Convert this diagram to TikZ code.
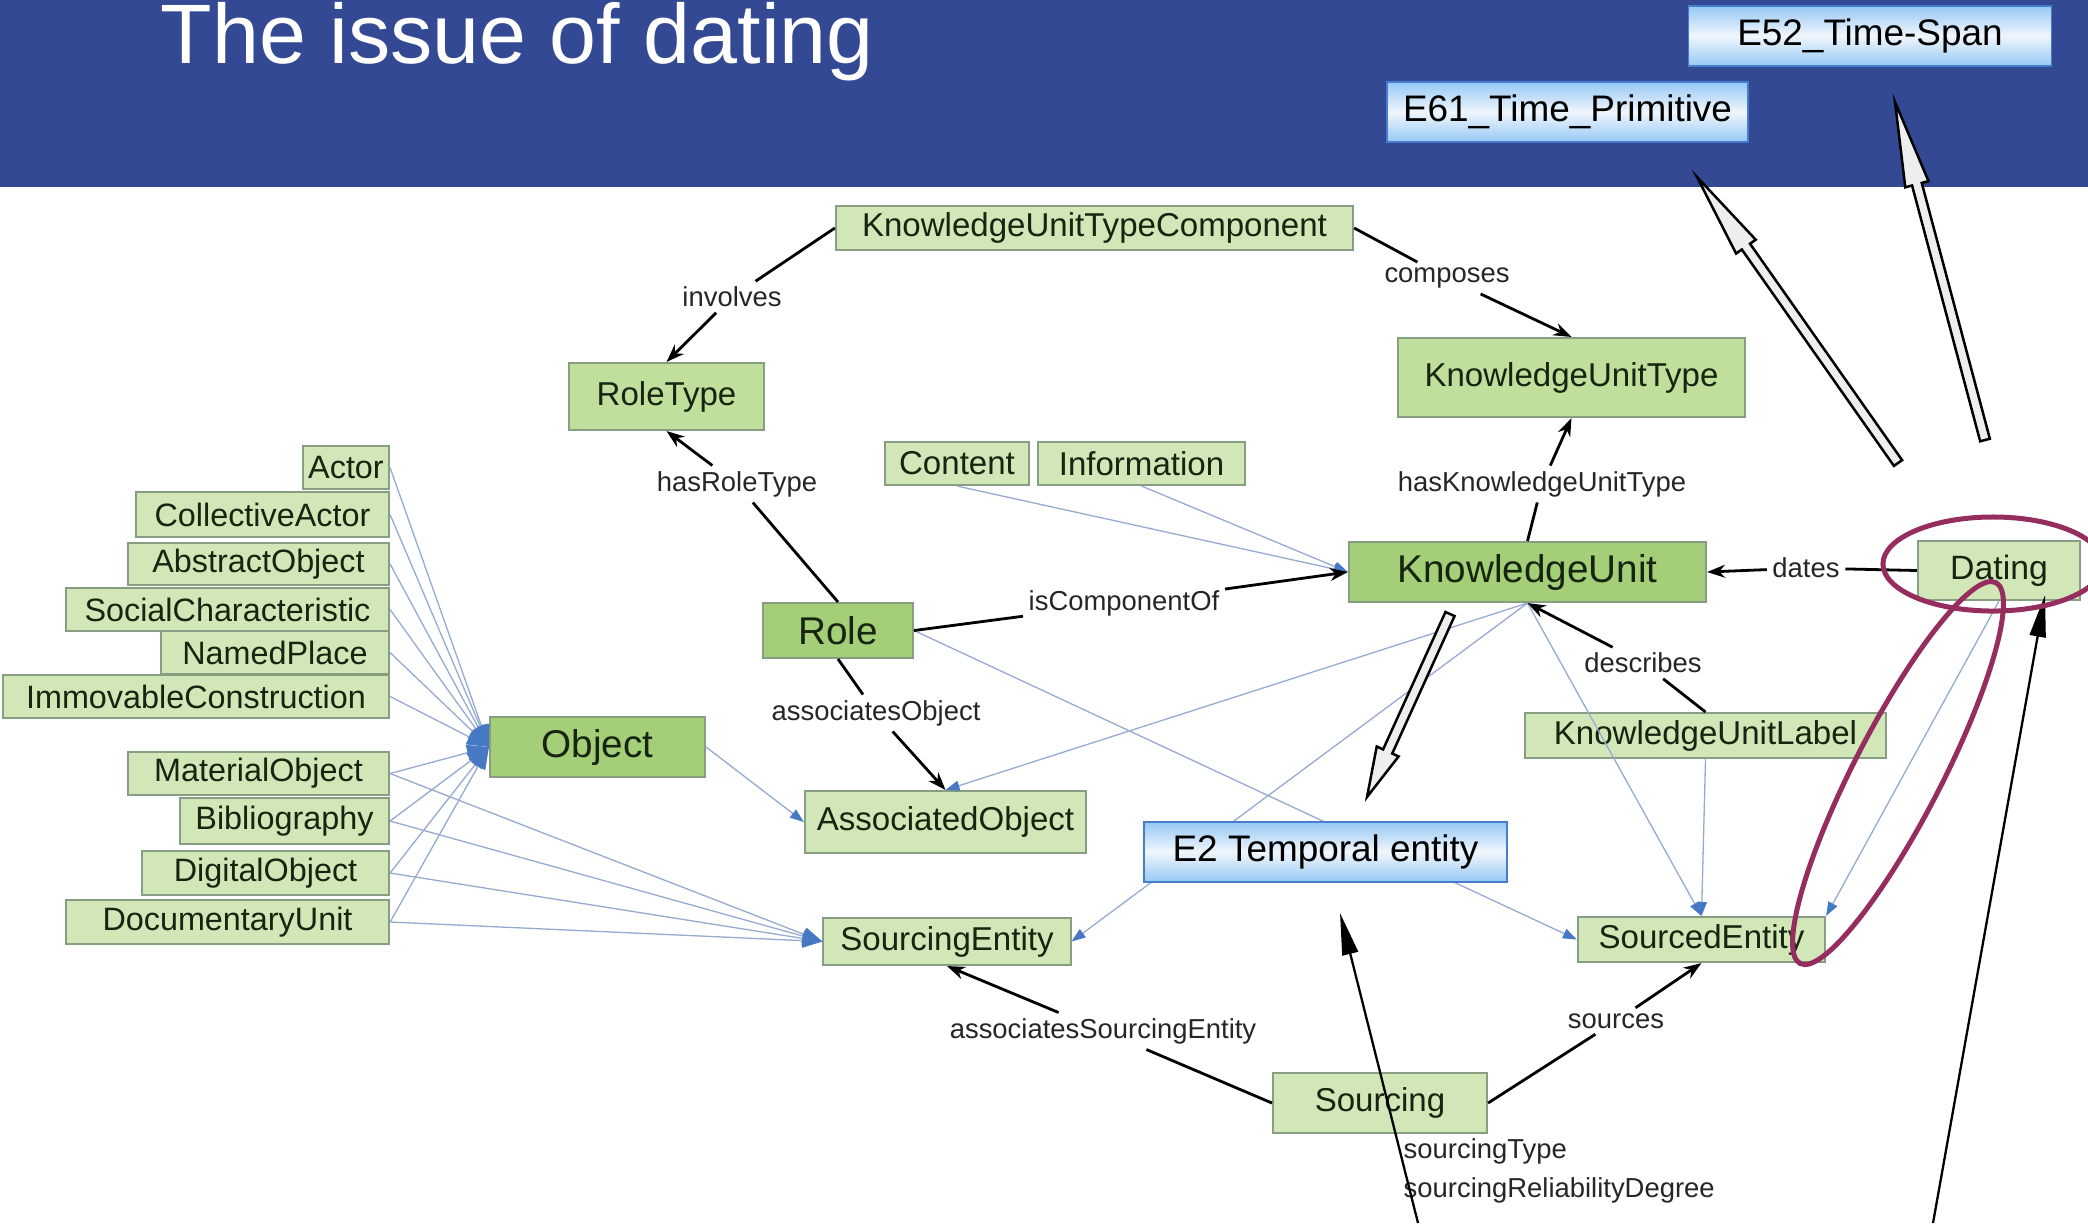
\documentclass[tikz,border=0pt]{standalone}
\usepackage{fontspec}
\setmainfont{Liberation Sans}
\usetikzlibrary{arrows.meta,calc}
\definecolor{headerblue}{RGB}{51,73,147}
\definecolor{nodefill}{RGB}{210,231,184}
\definecolor{nodemid}{RGB}{192,222,156}
\definecolor{nodedark}{RGB}{164,206,120}
\definecolor{nodeline}{RGB}{135,158,130}
\definecolor{nodetext}{RGB}{22,36,16}
\definecolor{linkline}{RGB}{150,170,210}
\definecolor{linkhead}{RGB}{70,120,195}
\definecolor{classline}{RGB}{70,125,205}
\definecolor{classtop}{RGB}{150,200,245}
\definecolor{classmid}{RGB}{240,246,252}
\definecolor{ringcol}{RGB}{150,45,95}
\definecolor{arrowfill}{RGB}{238,238,238}
\tikzset{
    box/.style={draw=nodeline, line width=0.02cm, fill=nodefill, text=nodetext, inner sep=0pt, font=\fontsize{9.4}{11}\selectfont},
    midbox/.style={box, fill=nodemid},
    darkbox/.style={box, fill=nodedark, font=\fontsize{11}{13}\selectfont},
    leftbox/.style={box, font=\fontsize{9.2}{11}\selectfont},
    lbl/.style={inner sep=0.05cm, text=black!85, font=\fontsize{7.8}{9}\selectfont},
    relline/.style={line width=0.028cm},
    rel/.style={relline, -{Stealth[length=0.18cm, width=0.13cm]}},
    link/.style={draw=linkline, line width=0.013cm, -{Triangle[length=0.14cm, width=0.10cm, color=linkhead]}},
    objlink/.style={link, -{Triangle[length=0.22cm, width=0.16cm, color=linkhead]}},
    eclass/.style={draw=classline, line width=0.015cm, top color=classtop, bottom color=classtop, middle color=classmid, inner sep=0pt, font=\fontsize{10.5}{12}\selectfont},
    title/.style={text=white, inner sep=0pt, font=\fontsize{24}{28}\selectfont},
    ring/.style={draw=ringcol, line width=0.05cm},
    pointer/.style={line width=0.023cm, -{Triangle[length=0.42cm, width=0.16cm]}},
    hollow/.style={draw, line width=0.025cm, fill=arrowfill, line join=miter},
}
% tail, tip, head length
\newcommand{\hollowarrow}[3]{%
    \coordinate (hb) at ($(#2)!#3!(#1)$);
    \draw[hollow] ($(#1)!0.05cm!90:(#2)$) -- ($(hb)!0.05cm!-90:(#1)$) -- ($(hb)!0.12cm!-90:(#1)$) -- (#2)
        -- ($(hb)!0.12cm!90:(#1)$) -- ($(hb)!0.05cm!90:(#1)$) -- ($(#1)!0.05cm!-90:(#2)$) -- cycle;
}

\begin{document}
\begin{tikzpicture}[x=0.01cm, y=-0.01cm]
\useasboundingbox (0,0) rectangle (2088,1223);
%\draw[step=100,lightgray,very thin] (0,0) grid (2088,1223);
\fill[white] (0,0) rectangle (2088,1223);
\fill[headerblue] (0,0) rectangle (2088,187);
\node[title, anchor=base west] (title) at (160,63) {The issue of dating};
\node[eclass, minimum width=3.63cm, minimum height=0.60cm] (timespan) at (1870,36) {E52\_Time-Span};
\node[eclass, minimum width=3.61cm, minimum height=0.60cm] (timeprimitive) at (1567.5,112) {E61\_Time\_Primitive};

\node[box, minimum width=5.17cm, minimum height=0.44cm] (kutc) at (1094.5,228) {KnowledgeUnitTypeComponent};
\node[midbox, minimum width=1.95cm, minimum height=0.67cm] (roletype) at (666.5,396.5) {RoleType};
\node[midbox, minimum width=3.47cm, minimum height=0.79cm] (kut) at (1571.5,377.5) {KnowledgeUnitType};
\node[box, minimum width=1.44cm, minimum height=0.43cm] (content) at (957,463.5) {Content};
\node[box, minimum width=2.07cm, minimum height=0.43cm] (information) at (1141.5,463.5) {Information};
\node[darkbox, minimum width=3.57cm, minimum height=0.60cm] (ku) at (1527.5,572) {KnowledgeUnit};
\node[box, minimum width=1.62cm, minimum height=0.59cm, font=\fontsize{9.6}{11}\selectfont] (dating) at (1999,570.5) {Dating};
\node[darkbox, minimum width=1.50cm, minimum height=0.55cm] (role) at (838,630.5) {Role};
\node[darkbox, minimum width=2.15cm, minimum height=0.60cm] (object) at (597.5,747) {Object};
\node[box, minimum width=2.81cm, minimum height=0.62cm] (assocobject) at (945.5,822) {AssociatedObject};
\node[box, minimum width=3.61cm, minimum height=0.45cm] (kulabel) at (1705.5,735.5) {KnowledgeUnitLabel};
\node[box, minimum width=2.47cm, minimum height=0.45cm] (sourced) at (1701.5,939.5) {SourcedEntity};
\node[box, minimum width=2.47cm, minimum height=0.47cm] (sourcingent) at (947,941.5) {SourcingEntity};
\node[box, minimum width=2.14cm, minimum height=0.60cm] (sourcing) at (1380,1103) {Sourcing};
\node[lbl, anchor=north west, inner sep=0pt, align=left, font=\fontsize{7.8}{11}\selectfont] (sourcingattr) at (1403,1138) {sourcingType\\sourcingReliabilityDegree};

\node[leftbox, minimum width=0.86cm, minimum height=0.43cm] (actor) at (346,467.5) {Actor};
\node[leftbox, minimum width=2.53cm, minimum height=0.45cm] (collective) at (262.5,514.5) {CollectiveActor};
\node[leftbox, minimum width=2.61cm, minimum height=0.42cm] (abstract) at (258.5,564) {AbstractObject};
\node[leftbox, minimum width=3.23cm, minimum height=0.43cm] (social) at (227.5,609.5) {SocialCharacteristic};
\node[leftbox, minimum width=2.28cm, minimum height=0.43cm] (named) at (275,652.5) {NamedPlace};
\node[leftbox, minimum width=3.86cm, minimum height=0.43cm] (immovable) at (196,696.5) {ImmovableConstruction};
\node[leftbox, minimum width=2.61cm, minimum height=0.43cm] (material) at (258.5,773.5) {MaterialObject};
\node[leftbox, minimum width=2.09cm, minimum height=0.46cm] (biblio) at (284.5,821) {Bibliography};
\node[leftbox, minimum width=2.47cm, minimum height=0.44cm] (digital) at (265.5,873) {DigitalObject};
\node[leftbox, minimum width=3.23cm, minimum height=0.44cm] (documentary) at (227.5,922) {DocumentaryUnit};

% blue links
\foreach \n in {actor,collective,abstract,social,named,immovable,material,biblio,digital,documentary}
    \draw[objlink] (\n.east) -- (object.west);
\foreach \n in {material,biblio,digital,documentary}
    \draw[link, -{Triangle[length=0.2cm, width=0.14cm, color=linkhead]}] (\n.east) -- (sourcingent.west);
\draw[link] (object.east) -- (assocobject.west);
\draw[link] (content.south) -- (ku.west);
\draw[link] (information.south) -- (ku.west);
\draw[link] (ku.south) -- (assocobject.north);
\draw[link] (ku.south) -- (sourcingent.east);
\draw[link] (ku.south) -- (sourced.north);
\draw[link] (kulabel.south) -- (sourced.north);
\draw[link] (role.east) -- (sourced.west);
\draw[link] (dating.south) -- (sourced.north east);

% labelled relations
\node[lbl] (involves) at (732,297) {involves};
\node[lbl] (composes) at (1447,278) {composes};
\node[lbl] (hasroletype) at (737,484) {hasRoleType};
\node[lbl] (haskut) at (1542,484) {hasKnowledgeUnitType};
\node[lbl] (iscomponent) at (1124,603) {isComponentOf};
\node[lbl] (dates) at (1806,568) {dates};
\node[lbl] (describes) at (1643,663) {describes};
\node[lbl] (assocobj) at (876,713) {associatesObject};
\node[lbl] (assocsrc) at (1103,1031) {associatesSourcingEntity};
\node[lbl] (sources) at (1616,1021) {sources};
\draw[relline] (kutc.west) -- (involves);
\draw[rel] (involves) -- (roletype.north);
\draw[relline] (kutc.east) -- (composes);
\draw[rel] (composes) -- (kut.north);
\draw[relline] (role.north) -- (hasroletype);
\draw[rel] (hasroletype) -- (roletype.south);
\draw[relline] (ku.north) -- (haskut);
\draw[rel] (haskut) -- (kut.south);
\draw[relline] (role.east) -- (iscomponent);
\draw[rel] (iscomponent) -- (ku.west);
\draw[relline] (dating.west) -- (dates);
\draw[rel] (dates) -- (ku.east);
\draw[relline] (kulabel.north) -- (describes);
\draw[rel] (describes) -- (ku.south);
\draw[relline] (role.south) -- (assocobj);
\draw[rel] (assocobj) -- (assocobject.north);
\draw[relline] (sourcing.west) -- (assocsrc);
\draw[rel] (assocsrc) -- (sourcingent.south);
\draw[relline] (sourcing.east) -- (sources);
\draw[rel] (sources) -- (sourced.south);

\node[eclass, minimum width=3.63cm, minimum height=0.60cm] (temporal) at (1325.5,852) {E2 Temporal entity};

% annotations
\coordinate (e2tail) at (1450,614);
\coordinate (e2tip) at (1367,797);
\coordinate (e61tail) at (1898,463);
\coordinate (e61tip) at (1697,177);
\coordinate (e52tail) at (1985,440);
\coordinate (e52tip) at (1895,102);
\hollowarrow{e2tail}{e2tip}{0.5cm}
\hollowarrow{e61tail}{e61tip}{0.85cm}
\hollowarrow{e52tail}{e52tip}{0.85cm}
\coordinate (e2foot) at (1418,1223);
\coordinate (e2point) at (1340,913);
\coordinate (datingfoot) at (1933,1223);
\coordinate (datingpoint) at (2045,595);
\draw[pointer] (e2foot) -- (e2point);
\draw[pointer] (datingfoot) -- (datingpoint);
\coordinate (ringa) at (1993,564);
\coordinate (ringb) at (1898,773);
\draw[ring] (ringa) ellipse [x radius=1.10cm, y radius=0.47cm];
\draw[ring, rotate around={62.8:(ringb)}] (ringb) ellipse [x radius=2.14cm, y radius=0.44cm];
\end{tikzpicture}
\end{document}
